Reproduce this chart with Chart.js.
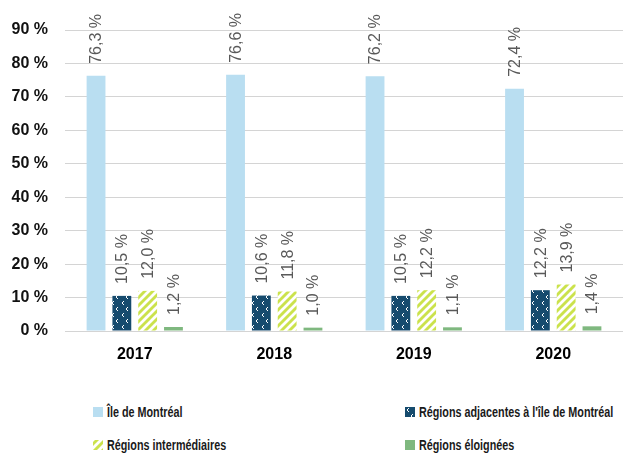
<!DOCTYPE html>
<html>
<head>
<meta charset="utf-8">
<script src="https://cdn.jsdelivr.net/npm/chart.js@4"></script>
<style>
  html, body { margin: 0; padding: 0; background: #fff; }
  #wrap { width: 623px; height: 454px; position: relative; overflow: hidden; }
  #chart { position: absolute; left: 0; top: 0; }
  #legend { position: absolute; left: 0; top: 0; width: 623px; }
  .item { position: absolute; height: 16px; line-height: 16px; white-space: nowrap; }
  .item .sw { position: absolute; left: 0; top: 3px; width: 10px; height: 10px; }
  .item .tx { position: absolute; left: 14px; top: 0; font: bold 14px "Liberation Sans", sans-serif; color: #1a1a1a;
              transform: scaleX(0.77); transform-origin: 0 50%; }
</style>
</head>
<body>
<div id="wrap">
  <canvas id="chart" width="623" height="380"></canvas>
  <div id="legend"></div>
</div>
<script>
// data
const years = ['2017', '2018', '2019', '2020'];
const seriesNames = ['Île de Montréal', 'Régions adjacentes à l\'île de Montréal', 'Régions intermédiaires', 'Régions éloignées'];
const ileMontreal = [76.3, 76.6, 76.2, 72.4];
const adjacentes = [10.5, 10.6, 10.5, 12.2];
const intermediaires = [12.0, 11.8, 12.2, 13.9];
const eloignees = [1.2, 1.0, 1.1, 1.4];
const yTicks = [0, 10, 20, 30, 40, 50, 60, 70, 80, 90];

const frNum = v => v.toFixed(1).replace('.', ',') + ' %';

// dark blue with small white chevrons
function dotTile() {
  const c = document.createElement('canvas');
  c.width = 10; c.height = 12;
  const g = c.getContext('2d');
  g.fillStyle = '#164b6e';
  g.fillRect(0, 0, 10, 12);
  g.strokeStyle = '#ffffff';
  g.lineWidth = 1;
  g.beginPath();
  g.moveTo(4, 1); g.lineTo(2, 3); g.lineTo(4, 5);
  g.moveTo(8, 7); g.lineTo(6, 9); g.lineTo(8, 11);
  g.stroke();
  return c;
}
// white diagonal stripes on yellow-green
function stripeTile() {
  const c = document.createElement('canvas');
  c.width = 8; c.height = 8;
  const g = c.getContext('2d');
  g.fillStyle = '#cbe24c';
  g.fillRect(0, 0, 8, 8);
  g.strokeStyle = '#ffffff';
  g.lineWidth = 2.8;
  g.beginPath();
  g.moveTo(-2, 10); g.lineTo(10, -2);
  g.moveTo(-2, 2); g.lineTo(2, -2);
  g.moveTo(6, 10); g.lineTo(10, 6);
  g.stroke();
  return c;
}
const ctx0 = document.getElementById('chart').getContext('2d');
const dotC = dotTile(), stripeC = stripeTile();
const fills = ['#b9def1', ctx0.createPattern(dotC, 'repeat'), ctx0.createPattern(stripeC, 'repeat'), '#7fb87f'];
const swatchCss = ['#b9def1', 'url(' + dotC.toDataURL() + ')', 'url(' + stripeC.toDataURL() + ')', '#7fb87f'];

const valueLabels = {
  id: 'valueLabels',
  afterDatasetsDraw(chart) {
    const ctx = chart.ctx;
    ctx.save();
    ctx.font = '16px "Liberation Sans", sans-serif';
    ctx.fillStyle = '#595959';
    ctx.textAlign = 'left';
    ctx.textBaseline = 'middle';
    chart.data.datasets.forEach((ds, i) => {
      chart.getDatasetMeta(i).data.forEach((bar, j) => {
        ctx.save();
        ctx.translate(bar.x + 1, bar.y - 12);
        ctx.rotate(-Math.PI / 2);
        ctx.fillText(frNum(ds.data[j]), 0, 0);
        ctx.restore();
      });
    });
    ctx.restore();
  }
};

const chart = new Chart(ctx0, {
  type: 'bar',
  data: {
    labels: years,
    datasets: [
      { label: seriesNames[0], data: ileMontreal, backgroundColor: fills[0] },
      { label: seriesNames[1], data: adjacentes, backgroundColor: fills[1] },
      { label: seriesNames[2], data: intermediaires, backgroundColor: fills[2] },
      { label: seriesNames[3], data: eloignees, backgroundColor: fills[3] }
    ]
  },
  options: {
    responsive: false,
    animation: false,
    layout: { padding: { top: 30, left: 8, right: 0, bottom: 0 } },
    datasets: { bar: { barPercentage: 0.73, categoryPercentage: 0.74 } },
    plugins: { legend: { display: false }, tooltip: { enabled: false } },
    scales: {
      x: {
        grid: { display: false, drawTicks: false },
        border: { display: false },
        afterFit: axis => { axis.height = 49; },
        ticks: { color: '#000', font: { family: 'Liberation Sans', size: 16, weight: 'bold' }, padding: 14 }
      },
      y: {
        min: 0, max: 90,
        afterBuildTicks: axis => { axis.ticks = yTicks.map(v => ({ value: v })); },
        afterFit: axis => { axis.width = 57; },
        grid: { color: '#d4d4d4', lineWidth: 1, drawTicks: false },
        border: { display: false },
        ticks: {
          color: '#111',
          padding: 17,
          font: { family: 'Liberation Sans', size: 16, weight: 'bold' },
          callback: v => v + ' %'
        }
      }
    }
  },
  plugins: [valueLabels]
});

// two-column legend built from the chart datasets
const legendEl = document.getElementById('legend');
const pos = [[93, 404], [405, 404], [93, 437], [405, 437]];
chart.data.datasets.forEach((ds, i) => {
  const div = document.createElement('div');
  div.className = 'item';
  div.style.left = pos[i][0] + 'px';
  div.style.top = pos[i][1] + 'px';
  const sw = document.createElement('span');
  sw.className = 'sw';
  sw.style.background = swatchCss[i];
  const tx = document.createElement('span');
  tx.className = 'tx';
  tx.textContent = ds.label;
  div.appendChild(sw);
  div.appendChild(tx);
  legendEl.appendChild(div);
});
</script>
</body>
</html>
